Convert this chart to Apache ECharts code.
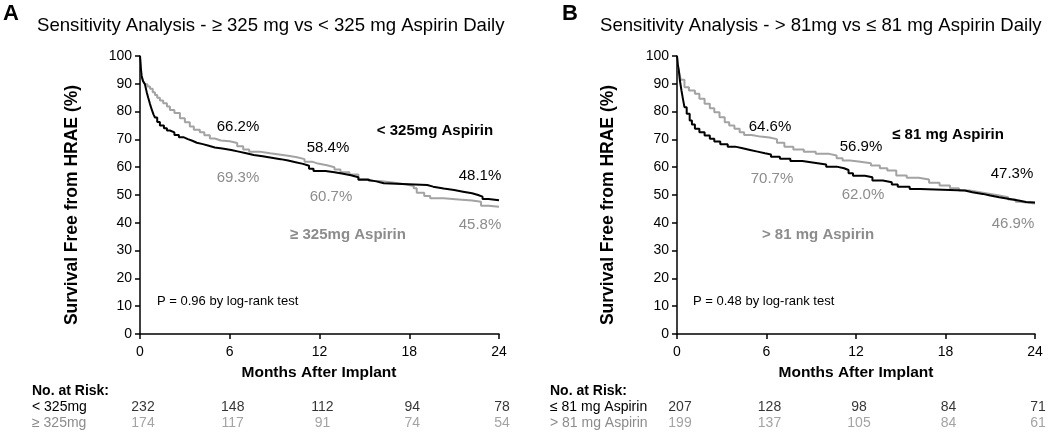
<!DOCTYPE html>
<html>
<head>
<meta charset="utf-8">
<script src="https://cdn.jsdelivr.net/npm/echarts@6/dist/echarts.min.js"></script>
<style>
html,body{margin:0;padding:0;background:#fff;}
#c{width:1050px;height:432px;}
</style>
</head>
<body>
<div id="c"></div>
<script>
// ---------- data ----------
const xTicks = [0, 6, 12, 18, 24];
const yTicks = [0, 10, 20, 30, 40, 50, 60, 70, 80, 90, 100];

// Panel A
const aBelow325 = [[0,100],[0.05,96],[0.1,93],[0.2,91],[0.33,89.8],[0.45,87],[0.55,85],[0.67,82.7],[0.8,80.5],[0.9,79],[1.0,77.9],[1.15,76.3],[1.33,75],[1.6,74],[1.8,73.2],[2.0,72.5],[2.3,71.6],[2.6,70.8],[2.9,70.1],[3.2,69.5],[3.5,68.8],[3.8,68.3],[4.2,67.7],[4.6,67.1],[5.0,66.7],[5.5,66.2],[6.1,65.6],[6.6,65.0],[7.1,64.4],[7.6,63.9],[8.2,63.4],[8.8,62.9],[9.4,62.4],[9.9,61.8],[10.4,61.2],[10.9,60.5],[11.3,59.4],[11.6,58.6],[12.4,58.2],[13.0,57.7],[13.5,57.1],[14.1,56.4],[14.6,55.5],[15.2,54.9],[15.8,54.2],[16.3,53.6],[19.2,53.0],[19.6,52.3],[20.3,51.8],[21.0,51.2],[21.6,50.6],[22.2,50.0],[22.6,49.4],[22.9,48.6],[23.3,48.1],[24,48.1]];
const aAtLeast325 = [[0,100],[0.05,96],[0.1,93],[0.2,91],[0.33,89.8],[0.5,89],[0.67,88.2],[0.85,87],[1.0,86],[1.15,85],[1.33,84],[1.55,83],[1.8,81.8],[2.0,80.6],[2.3,79.5],[2.67,77.6],[3.0,76.2],[3.33,74.6],[3.6,73.5],[4.0,72.6],[4.3,71.5],[4.67,70.3],[5.0,69.6],[5.4,69.3],[6.0,68.7],[6.5,67.5],[6.9,66.4],[7.3,65.6],[8.0,65.0],[8.7,64.6],[9.3,64.1],[9.9,63.6],[10.5,62.9],[11.0,62.0],[11.5,61.3],[11.9,60.7],[12.5,60.0],[13.0,59.2],[13.4,58.2],[14.0,57.4],[14.6,55.8],[15.3,55.0],[16.0,54.4],[17.0,53.8],[17.8,53.2],[18.3,52.4],[18.5,50.8],[19.0,49.6],[19.4,48.8],[20.3,48.4],[21.3,48.0],[22.2,47.6],[22.8,46.1],[23.3,45.8],[24,45.8]];

// Panel B
const bAtMost81 = [[0,100],[0.05,97],[0.12,94.8],[0.2,91],[0.3,87.6],[0.4,84.5],[0.5,81.6],[0.65,79.2],[0.85,76.8],[1.0,75.4],[1.2,73.8],[1.5,72.6],[1.85,71.4],[2.2,70.2],[2.5,69.2],[2.9,68.3],[3.4,67.4],[3.9,66.8],[4.4,66.2],[4.9,65.6],[5.4,65.0],[5.9,64.6],[6.3,63.8],[6.9,63.0],[7.6,62.2],[8.4,61.6],[9.2,61.0],[10.0,60.2],[10.7,59.6],[11.2,59.0],[11.5,57.8],[11.8,56.9],[12.6,56.4],[13.1,55.2],[13.8,54.6],[14.4,53.8],[14.8,53.0],[15.6,52.2],[16.3,51.6],[19.3,51.0],[19.8,50.4],[20.5,49.8],[21.0,49.2],[21.6,48.6],[22.3,48.0],[22.9,47.5],[23.4,47.3],[24,47.3]];
const bAbove81 = [[0,100],[0.05,97],[0.12,94.8],[0.25,91.5],[0.5,88.8],[0.8,87.6],[1.2,86.4],[1.5,84.6],[1.85,82.8],[2.2,81.2],[2.5,79.8],[2.85,78],[3.2,76.2],[3.5,75],[3.85,73.8],[4.2,72.6],[4.5,71.6],[5.0,71.0],[5.6,70.7],[6.2,70.1],[6.7,68.8],[7.2,67.4],[7.8,66.4],[8.5,65.6],[9.3,64.8],[10.2,64.2],[10.7,63.2],[11.1,62.4],[11.6,62.0],[12.3,61.4],[13.0,60.6],[13.6,59.6],[14.1,58.8],[14.7,57.0],[15.4,56.2],[16.2,55.6],[16.9,54.4],[17.6,53.4],[18.3,52.4],[18.9,51.6],[19.6,51.0],[20.3,50.4],[21.0,49.8],[21.6,49.2],[22.2,48.4],[22.7,47.6],[23.0,46.9],[24,46.9]];

// Numbers at risk
const riskTimes = [0, 6, 12, 18, 24];
const riskRowsA = ['< 325mg', '≥ 325mg'];
const riskA1 = [232, 148, 112, 94, 78];
const riskA2 = [174, 117, 91, 74, 54];
const riskRowsB = ['≤ 81 mg Aspirin', '> 81 mg Aspirin'];
const riskB1 = [207, 128, 98, 84, 71];
const riskB2 = [199, 137, 105, 84, 61];

// Annotated survival percentages
const pctA1 = ['66.2%', '58.4%', '48.1%'];
const pctA2 = ['69.3%', '60.7%', '45.8%'];
const pctB1 = ['64.6%', '56.9%', '47.3%'];
const pctB2 = ['70.7%', '62.0%', '46.9%'];

const titleA = 'Sensitivity Analysis - ≥ 325 mg vs < 325 mg Aspirin Daily';
const titleB = 'Sensitivity Analysis - > 81mg vs ≤ 81 mg Aspirin Daily';
const pA = 'P = 0.96 by log-rank test';
const pB = 'P = 0.48 by log-rank test';
const groupA1 = '< 325mg Aspirin', groupA2 = '≥ 325mg Aspirin';
const groupB1 = '≤ 81 mg Aspirin', groupB2 = '> 81 mg Aspirin';
const yTitle = 'Survival Free from HRAE (%)';
const xTitle = 'Months After Implant';

// ---------- style ----------
const FONT = '"Liberation Sans", Arial, sans-serif';
const BLACK = '#000000';
const GRAYLINE = '#a3a3a3';
const GRAYTXT = '#8c8c8c';

const plotGrids = [
  {left: 140, right: 551, top: 56, bottom: 98},
  {left: 677, right: 15, top: 56, bottom: 98}
];
const riskGrids = [
  {left: 140, right: 551, top: 398.5, height: 34},
  {left: 677, right: 15, top: 398.5, height: 34}
];

function valueX(gi) {
  return {
    type: 'value', gridIndex: gi, min: 0, max: 24, interval: 6,
    axisLine: {show: true, onZero: false, lineStyle: {color: BLACK, width: 1.5}},
    axisTick: {show: true, length: 5, lineStyle: {color: BLACK, width: 1.5}},
    axisLabel: {color: BLACK, fontSize: 14, fontFamily: FONT, margin: 11},
    splitLine: {show: false}
  };
}
function valueY(gi) {
  return {
    type: 'value', gridIndex: gi, min: 0, max: 100, interval: 10,
    axisLine: {show: true, lineStyle: {color: BLACK, width: 1.5}},
    axisTick: {show: true, length: 5, lineStyle: {color: BLACK, width: 1.5}},
    axisLabel: {color: BLACK, fontSize: 14, fontFamily: FONT, margin: 8},
    splitLine: {show: false}
  };
}
function riskX(gi) {
  return {type: 'value', gridIndex: gi, min: 0, max: 24, show: false};
}
function riskY(gi, rows, margin) {
  return {
    type: 'category', gridIndex: gi, data: rows, inverse: true,
    axisLine: {show: false}, axisTick: {show: false}, splitLine: {show: false},
    axisLabel: {
      show: true, interval: 0, align: 'left', margin: margin, fontFamily: FONT, fontSize: 14,
      formatter: (v, i) => i === 0 ? '{a|' + v + '}' : '{b|' + v + '}',
      rich: {a: {color: BLACK, fontSize: 14, fontFamily: FONT}, b: {color: GRAYTXT, fontSize: 14, fontFamily: FONT}}
    }
  };
}
function kmSeries(data, color, xi, yi) {
  return {
    type: 'line', step: 'end', data: data, xAxisIndex: xi, yAxisIndex: yi,
    showSymbol: false, symbol: 'none', silent: true, animation: false,
    lineStyle: {color: color, width: 2}
  };
}
function riskSeries(values, row, color, xi, yi) {
  return {
    type: 'scatter', xAxisIndex: xi, yAxisIndex: yi, symbolSize: 0, silent: true, animation: false,
    data: riskTimes.map((t, i) => [t, row, values[i]]),
    label: {show: true, position: 'inside', offset: [3, 0], formatter: p => String(p.value[2]),
            color: color, fontSize: 14, fontFamily: FONT}
  };
}

function txt(x, y, text, opts) {
  opts = opts || {};
  return {
    type: 'text', x: x, y: y, rotation: opts.rot || 0, silent: true,
    style: {
      text: text, fill: opts.color || BLACK,
      font: (opts.bold ? 'bold ' : '') + (opts.size || 14) + 'px ' + FONT,
      textAlign: opts.align || 'center', textVerticalAlign: 'middle'
    }
  };
}

const graphics = [
  txt(3, 14, 'A', {bold: true, size: 22, align: 'left'}),
  txt(37, 26, titleA, {size: 18.6, align: 'left'}),
  txt(562, 14, 'B', {bold: true, size: 22, align: 'left'}),
  txt(600, 26, titleB, {size: 18.6, align: 'left'}),
  txt(72, 205, yTitle, {bold: true, size: 17.5, rot: Math.PI / 2}),
  txt(608, 205, yTitle, {bold: true, size: 17.5, rot: Math.PI / 2}),
  txt(319, 373, xTitle, {bold: true, size: 15.5}),
  txt(856, 373, xTitle, {bold: true, size: 15.5}),
  txt(32, 391, 'No. at Risk:', {bold: true, size: 14, align: 'left'}),
  txt(550, 391, 'No. at Risk:', {bold: true, size: 14, align: 'left'}),
  txt(157, 301, pA, {size: 13, align: 'left'}),
  txt(693, 301, pB, {size: 13, align: 'left'}),
  // panel A annotations
  txt(238, 127, pctA1[0], {size: 15}),
  txt(328, 148, pctA1[1], {size: 15}),
  txt(480, 176, pctA1[2], {size: 15}),
  txt(238, 178, pctA2[0], {size: 15, color: GRAYTXT}),
  txt(331, 197, pctA2[1], {size: 15, color: GRAYTXT}),
  txt(480, 225, pctA2[2], {size: 15, color: GRAYTXT}),
  txt(435, 131, groupA1, {bold: true, size: 15}),
  txt(348, 235, groupA2, {bold: true, size: 15, color: GRAYTXT}),
  // panel B annotations
  txt(770, 127, pctB1[0], {size: 15}),
  txt(861, 147, pctB1[1], {size: 15}),
  txt(1012, 174, pctB1[2], {size: 15}),
  txt(772, 179, pctB2[0], {size: 15, color: GRAYTXT}),
  txt(863, 195, pctB2[1], {size: 15, color: GRAYTXT}),
  txt(1013, 224, pctB2[2], {size: 15, color: GRAYTXT}),
  txt(948, 135, groupB1, {bold: true, size: 15}),
  txt(818, 235, groupB2, {bold: true, size: 15, color: GRAYTXT})
];

const chart = echarts.init(document.getElementById('c'), null, {renderer: 'canvas'});
chart.setOption({
  animation: false,
  backgroundColor: '#ffffff',
  grid: [plotGrids[0], plotGrids[1], riskGrids[0], riskGrids[1]],
  xAxis: [valueX(0), valueX(1), riskX(2), riskX(3)],
  yAxis: [valueY(0), valueY(1), riskY(2, riskRowsA, 108), riskY(3, riskRowsB, 127)],
  series: [
    kmSeries(aAtLeast325, GRAYLINE, 0, 0),
    kmSeries(aBelow325, BLACK, 0, 0),
    kmSeries(bAbove81, GRAYLINE, 1, 1),
    kmSeries(bAtMost81, BLACK, 1, 1),
    riskSeries(riskA1, 0, BLACK, 2, 2),
    riskSeries(riskA2, 1, GRAYTXT, 2, 2),
    riskSeries(riskB1, 0, BLACK, 3, 3),
    riskSeries(riskB2, 1, GRAYTXT, 3, 3)
  ],
  graphic: graphics
});
</script>
</body>
</html>
